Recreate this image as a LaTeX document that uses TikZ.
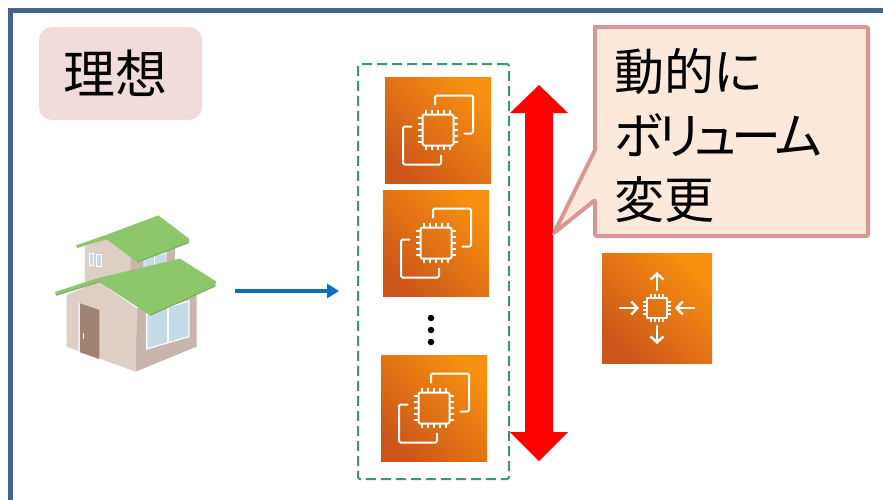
\documentclass[tikz,border=0pt]{standalone}
\usepackage{fontspec}
\newfontfamily\jpfont{Noto Sans CJK JP}
\newfontfamily\jpnarrow[RawFeature=+palt]{Noto Sans CJK JP}
\usetikzlibrary{arrows.meta}

\definecolor{framebl}{HTML}{41658F}
\definecolor{tagfill}{HTML}{F2DCDB}
\definecolor{grpgreen}{HTML}{3C9A6A}
\definecolor{awsdark}{HTML}{CC561A}
\definecolor{awslight}{HTML}{F7900F}
\definecolor{flowblue}{HTML}{0A6FBF}
\definecolor{calloutfill}{HTML}{FDE9D9}
\definecolor{calloutline}{HTML}{D99694}
\definecolor{roofgreen}{HTML}{8DC66B}
\definecolor{roofedge}{HTML}{6FAE50}
\definecolor{wallfront}{HTML}{DDCEC6}
\definecolor{wallside}{HTML}{C8B6AE}
\definecolor{glass}{HTML}{C3DCE8}
\definecolor{doorbrown}{HTML}{A08370}

\tikzset{
  awsicon/.style={minimum size=#1, inner sep=0pt, outer sep=0pt,
    top color=awslight, bottom color=awsdark, shading angle=-45},
  glyph/.style={draw=white, line width=2pt, line join=round, line cap=round},
  bigtext/.style={font=\jpfont\fontsize{50}{64}\selectfont, inner sep=0pt},
  % EC2 instances glyph, drawn about the icon centre
  ec2glyph/.pic={
    \draw[glyph, rounded corners=1.5pt] (-15.5,-15.5) rectangle (15.5,15.5);
    \foreach \p in {-12,-6,0,6,12}{
      \draw[glyph, line width=1.6pt, line cap=butt] (\p,-15.5) -- (\p,-20);
      \draw[glyph, line width=1.6pt, line cap=butt] (\p,15.5) -- (\p,20);
      \draw[glyph, line width=1.6pt, line cap=butt] (-15.5,\p) -- (-20,\p);
      \draw[glyph, line width=1.6pt, line cap=butt] (15.5,\p) -- (20,\p);
    }
    \draw[glyph, rounded corners=1.5pt] (-3,-25.5) -- (-3,-34.5) -- (35,-34.5) -- (35,3.5) -- (26.5,3.5);
    \draw[glyph, rounded corners=1.5pt] (-26.5,-3.5) -- (-35,-3.5) -- (-35,34.5) -- (3,34.5) -- (3,25.5);
  },
  % Auto Scaling glyph: chip with four arrows
  asgglyph/.pic={
    \draw[glyph, line width=2pt] (-10,-10) rectangle (10,10);
    \foreach \p in {-6,-2,2,6}{
      \draw[glyph, line width=1.4pt, line cap=butt] (\p,-10) -- (\p,-14);
      \draw[glyph, line width=1.4pt, line cap=butt] (\p,10) -- (\p,14);
      \draw[glyph, line width=1.4pt, line cap=butt] (-10,\p) -- (-14,\p);
      \draw[glyph, line width=1.4pt, line cap=butt] (10,\p) -- (14,\p);
    }
    \draw[glyph, line width=2.4pt, -{Straight Barb[length=6pt,width=13pt,line width=2.4pt]}] (0,-18) -- (0,-36);
    \draw[glyph, line width=2.4pt, -{Straight Barb[length=6pt,width=13pt,line width=2.4pt]}] (0,18) -- (0,36);
    \draw[glyph, line width=2.4pt, -{Straight Barb[length=6pt,width=13pt,line width=2.4pt]}] (-37,0) -- (-18,0);
    \draw[glyph, line width=2.4pt, -{Straight Barb[length=6pt,width=13pt,line width=2.4pt]}] (37,0) -- (18,0);
  }
}

\begin{document}
\begin{tikzpicture}[x=1pt,y=-1pt]
\useasboundingbox (0,0) rectangle (883,499);
\fill[white] (0,0) rectangle (883,499);

% outer frame
\draw[framebl, line width=5pt] (10,510) -- (10,10) -- (895,10);

% title tag
\node[fill=tagfill, rounded corners=13pt, minimum width=163pt, minimum height=93pt,
      inner sep=0pt] (tag) at (120.5,73.5) {};
\node[bigtext, font=\jpfont\fontsize{52}{64}\selectfont] (tagtext) at (115,73) {理想};

% house
\node[minimum width=162pt, minimum height=152pt, inner sep=0pt] (house) at (135,291) {};
\begin{scope}[shift={(40,200)}, x=0.3333pt, y=-0.3333pt]
  % upper storey
  \fill[wallside] (270,172) -- (405,135) -- (405,245) -- (270,265) -- cycle;
  \fill[wallfront] (135,140) -- (198,112) -- (272,170) -- (272,265) -- (135,265) -- cycle;
  \filldraw[fill=glass, draw=white, line width=0.8pt] (148,160) rectangle (161,196);
  \filldraw[fill=glass, draw=white, line width=0.8pt] (169,163) rectangle (183,199);
  \filldraw[fill=glass, draw=white, line width=0.8pt] (312,172) -- (378,158) -- (378,192) -- (312,206) -- cycle;
  \draw[white, line width=1pt] (345,165) -- (345,199);
  \fill[roofgreen] (108,136) -- (198,105) -- (355,46) -- (448,117) -- (446,128)
        -- (292,186) -- (200,118) -- (112,144) -- cycle;
  \draw[roofedge, line width=1pt] (292,186) -- (446,128);
  % lower storey
  \fill[wallside] (290,325) -- (470,250) -- (470,440) -- (287,515) -- cycle;
  \fill[wallfront] (80,285) -- (175,245) -- (290,325) -- (287,515) -- (80,440) -- cycle;
  \fill[doorbrown] (120,310) -- (178,330) -- (178,477) -- (120,457) -- cycle;
  \draw[white!85!gray, line width=1.2pt] (117,309) -- (117,457);
  \draw[white, line width=1pt] (130,400) -- (130,418);
  \filldraw[fill=glass, draw=white, line width=1.2pt] (320,340) -- (447,303) -- (447,410) -- (320,447) -- cycle;
  \draw[white, line width=1.2pt] (384,322) -- (384,429);
  \fill[roofgreen] (45,276) -- (175,234) -- (420,176) -- (528,244) -- (526,258)
        -- (330,346) -- (178,246) -- (48,286) -- cycle;
  \draw[roofedge, line width=1pt] (330,346) -- (526,258);
  \draw[roofedge, line width=0.8pt] (48,286) -- (178,246);
\end{scope}

% group of instances
\node[draw=grpgreen, line width=2pt, dash pattern=on 10pt off 5pt, rounded corners=2pt,
      minimum width=151pt, minimum height=415pt, inner sep=0pt] (group) at (433.5,271.5) {};

\node[awsicon=106pt] (ec2a) at (438,130) {};
\node[awsicon=106pt] (ec2b) at (436,243) {};
\node[awsicon=106pt] (ec2c) at (434,408) {};
\pic at (ec2a.center) {ec2glyph};
\pic at (ec2b.center) {ec2glyph};
\pic at (ec2c.center) {ec2glyph};

\foreach \y/\n in {318/d1, 330/d2, 342/d3}
  \node[circle, fill=black, inner sep=0pt, minimum size=6.5pt] (\n) at (431,\y) {};

% flow arrow
\draw[flowblue, line width=4pt, -{Triangle[length=12pt,width=14pt]}, shorten <=19pt, shorten >=18pt]
  (house.east) -- (house.east -| group.west);

% resize arrow
\fill[red] (539,85) -- (568,113) -- (553,113) -- (553,432) -- (568,432) -- (539,461)
  -- (510,432) -- (525,432) -- (525,113) -- (510,113) -- cycle;

% auto scaling icon
\node[awsicon=110pt] (asg) at (657,308) {};
\pic at (asg.center) {asgglyph};

% callout
\coordinate (ptip) at (554,233);
\filldraw[fill=calloutfill, draw=calloutline, line width=4pt, rounded corners=2pt]
  (595,27) -- (868,27) -- (868,236) -- (595,236) -- (595,200) -- (ptip)
  [sharp corners] -- (595,150) -- cycle;
\node[bigtext, font=\jpnarrow\fontsize{50}{64}\selectfont, anchor=west, align=left]
  (note) at (614,135) {動的に\\{\addfontfeature{LetterSpace=-9}ボリューム}\\変更};
\end{tikzpicture}
\end{document}
